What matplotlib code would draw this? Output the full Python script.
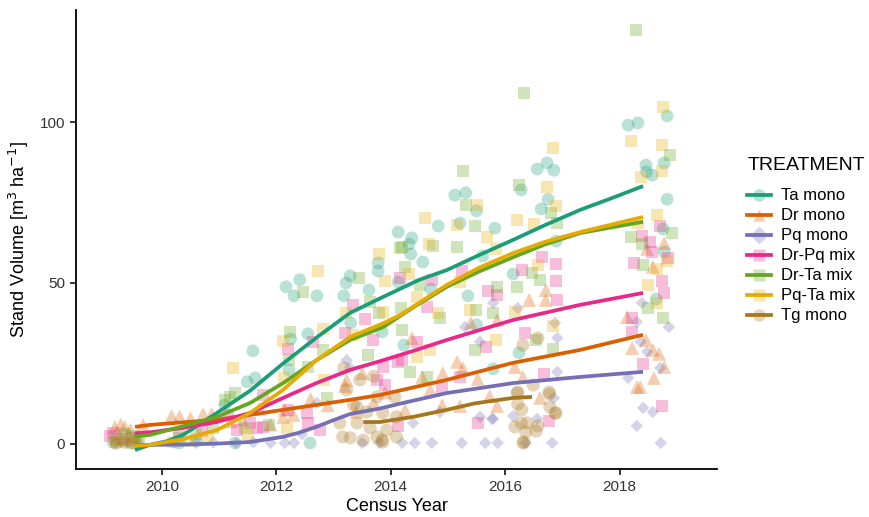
import matplotlib.pyplot as plt
from matplotlib.lines import Line2D
from matplotlib.colors import to_rgba

plt.rcParams['font.family'] = ['Liberation Sans', 'DejaVu Sans']

treatments = ['Ta mono', 'Dr mono', 'Pq mono', 'Dr-Pq mix', 'Dr-Ta mix', 'Pq-Ta mix', 'Tg mono']
colors = ['#1B9E77', '#D95F02', '#7570B3', '#E7298A', '#66A61E', '#E6AB02', '#A6761D']
markers = ['o', '^', 'D', 's', 's', 's', 'o']
msizes = [85, 100, 40, 72, 72, 72, 90]

# --- census observations (year, stand volume) ---
ta_year = [2009.15, 2009.3, 2009.45, 2009.55, 2010.3, 2010.6, 2011.1, 2011.28, 2011.49, 2011.59, 2011.63,
           2012.17, 2012.22, 2012.25, 2012.31, 2012.41, 2012.55, 2012.59, 2012.71, 2013.18, 2013.22, 2013.29,
           2013.3, 2013.62, 2013.78, 2013.78, 2013.85, 2014.13, 2014.13, 2014.23, 2014.32, 2014.35, 2014.37,
           2014.56, 2014.7, 2014.83, 2015.12, 2015.21, 2015.31, 2015.35, 2015.5, 2015.5, 2015.61, 2015.79,
           2015.82, 2016.14, 2016.24, 2016.28, 2016.56, 2016.63, 2016.73, 2016.75, 2016.85, 2016.89, 2018.15,
           2018.32, 2018.46, 2018.47, 2018.57, 2018.64, 2018.76, 2018.78, 2018.78, 2018.83, 2018.83]
ta_vol = [0.5, 1.0, 0.3, 1.5, 0.3, 1.0, 12.1, 0.3, 19.3, 28.9, 20.5,
          48.8, 23.0, 32.6, 46.0, 51.0, 34.2, 0.3, 46.0, 46.0, 50.0, 52.2,
          37.6, 47.8, 56.2, 53.7, 34.8, 65.8, 50.3, 30.7, 62.1, 59.0, 64.0,
          56.5, 48.1, 67.7, 77.3, 68.6, 78.0, 46.0, 72.4, 37.0, 58.4, 23.3,
          67.0, 52.8, 28.3, 78.9, 85.4, 73.0, 87.3, 76.0, 85.0, 63.0, 99.0,
          99.7, 86.6, 84.5, 83.5, 45.0, 66.8, 87.3, 59.6, 101.9, 76.0]

dr_year = [2009.18, 2009.28, 2009.35, 2009.45, 2009.67, 2010.17, 2010.31, 2010.5, 2010.72, 2010.87, 2011.2,
           2011.4, 2011.7, 2011.9, 2012.12, 2012.15, 2012.3, 2012.6, 2012.9, 2013.2, 2013.23, 2013.4, 2013.5,
           2013.7, 2013.9, 2014.25, 2014.37, 2014.55, 2014.69, 2014.9, 2014.91, 2015.16, 2015.21, 2015.26,
           2015.4, 2015.52, 2015.73, 2015.86, 2015.86, 2016.17, 2016.31, 2016.42, 2016.61, 2016.71, 2016.71,
           2018.13, 2018.22, 2018.3, 2018.36, 2018.46, 2018.48, 2018.58, 2018.58, 2018.6, 2018.69, 2018.78,
           2018.78]
dr_vol = [5.3, 6.0, 5.3, 4.5, 5.9, 8.7, 8.5, 8.0, 9.3, 9.3, 7.0,
          7.5, 11.0, 6.0, 8.4, 10.6, 9.0, 14.0, 12.0, 18.0, 19.9, 10.0, 22.0,
          13.0, 16.0, 10.6, 32.9, 20.8, 16.8, 12.1, 22.0, 25.5, 11.8, 23.6,
          37.6, 20.2, 14.9, 11.8, 38.5, 23.9, 20.8, 44.7, 14.3, 47.8, 44.7,
          39.4, 29.8, 17.7, 17.7, 32.3, 60.6, 55.0, 29.2, 20.5, 28.0, 62.4,
          23.9]

pq_year = [2009.2, 2009.4, 2009.6, 2010.2, 2010.6, 2010.9, 2011.3, 2011.6, 2011.9, 2012.15, 2012.31,
           2012.45, 2012.71, 2013.23, 2013.29, 2013.5, 2013.8, 2014.2, 2014.39, 2014.42, 2014.72, 2014.86,
           2015.24, 2015.3, 2015.56, 2015.56, 2015.65, 2015.77, 2015.79, 2015.79, 2015.87, 2016.14, 2016.22,
           2016.36, 2016.56, 2016.82, 2016.85, 2016.87, 2016.91, 2016.91, 2018.15, 2018.3, 2018.3, 2018.37,
           2018.39, 2018.41, 2018.48, 2018.58, 2018.71, 2018.72, 2018.86]
pq_vol = [0.3, 0.5, 0.2, 0.3, 0.3, 0.5, 0.3, 0.5, 0.3, 0.3, 0.3,
          3.0, 12.7, 26.0, 23.6, 0.3, 0.3, 0.3, 6.5, 0.3, 0.3, 9.9,
          0.3, 36.3, 31.7, 8.4, 0.3, 7.8, 43.8, 7.8, 0.3, 8.7, 42.2,
          0.3, 7.8, 0.3, 14.3, 37.6, 32.9, 22.4, 20.5, 37.9, 5.6, 31.7,
          43.8, 11.2, 28.6, 9.9, 23.6, 0.3, 36.3]

drpq_year = [2009.1, 2009.15, 2009.3, 2009.5, 2010.3, 2010.7, 2011.15, 2011.31, 2011.54, 2011.66, 2011.77,
             2011.77, 2012.2, 2012.2, 2012.53, 2012.55, 2012.64, 2012.76, 2013.2, 2013.34, 2013.55, 2013.69,
             2013.76, 2013.86, 2013.9, 2014.13, 2014.13, 2014.16, 2014.2, 2014.46, 2014.63, 2014.72, 2014.9,
             2015.21, 2015.24, 2015.52, 2015.66, 2015.7, 2015.86, 2016.29, 2016.35, 2016.64, 2016.68, 2016.77,
             2016.89, 2016.89, 2016.9, 2018.22, 2018.22, 2018.25, 2018.39, 2018.41, 2018.53, 2018.57, 2018.71,
             2018.74, 2018.74, 2018.78, 2018.85]
drpq_vol = [2.5, 3.5, 1.5, 2.0, 3.0, 4.0, 9.0, 4.3, 6.5, 5.0, 5.3,
            15.2, 29.5, 10.6, 9.6, 6.5, 31.7, 4.3, 34.5, 43.2, 38.8, 32.3,
            19.9, 23.9, 18.3, 25.5, 5.6, 51.6, 26.0, 31.7, 42.5, 50.9, 17.4,
            20.8, 53.7, 6.5, 30.1, 47.5, 46.3, 54.0, 34.5, 58.0, 21.7, 7.1,
            55.9, 50.6, 44.7, 39.1, 34.8, 56.2, 64.6, 24.8, 62.7, 59.6, 67.7,
            50.6, 11.8, 46.9, 57.8]

drta_year = [2009.2, 2009.35, 2009.5, 2009.6, 2010.3, 2010.6, 2010.9, 2011.1, 2011.19, 2011.28, 2011.45,
             2011.87, 2012.22, 2012.24, 2012.47, 2012.55, 2012.81, 2012.88, 2013.44, 2013.6, 2013.64, 2013.79,
             2014.16, 2014.18, 2014.2, 2014.2, 2014.25, 2014.34, 2014.51, 2014.63, 2014.74, 2014.86, 2015.16,
             2015.26, 2015.31, 2015.47, 2015.47, 2015.49, 2015.79, 2015.86, 2016.21, 2016.24, 2016.33, 2016.47,
             2016.54, 2016.61, 2016.8, 2016.84, 2016.91, 2018.2, 2018.29, 2018.39, 2018.41, 2018.5, 2018.76,
             2018.88, 2018.92]
drta_vol = [1.5, 3.0, 2.5, 1.0, 2.0, 3.0, 5.0, 13.7, 14.6, 15.8, 5.0,
            5.9, 26.0, 34.8, 47.2, 23.9, 29.2, 14.3, 51.6, 27.6, 44.1, 40.7,
            60.9, 42.2, 61.2, 35.4, 55.0, 22.4, 49.4, 20.8, 61.5, 39.1, 61.2,
            84.8, 74.2, 67.7, 29.2, 41.6, 40.7, 48.8, 48.8, 80.4, 109.0, 53.1,
            32.3, 50.9, 71.7, 29.5, 68.6, 64.3, 128.6, 62.1, 55.6, 42.2, 39.1,
            89.8, 65.5]

pqta_year = [2009.2, 2009.4, 2009.55, 2010.2, 2010.5, 2010.8, 2011.24, 2011.5, 2012.12, 2012.13, 2012.19,
             2012.73, 2012.81, 2012.83, 2013.22, 2013.34, 2013.79, 2013.86, 2013.9, 2014.32, 2014.46, 2014.46,
             2014.6, 2014.67, 2014.69, 2014.83, 2015.16, 2015.21, 2015.38, 2015.51, 2015.68, 2015.84, 2015.84,
             2016.17, 2016.21, 2016.5, 2016.57, 2016.73, 2016.84, 2016.84, 2016.89, 2018.2, 2018.32, 2018.37,
             2018.5, 2018.65, 2018.65, 2018.65, 2018.74, 2018.74, 2018.76, 2018.83]
pqta_vol = [0.5, 1.0, 0.3, 0.5, 1.0, 2.0, 23.6, 3.0, 32.0, 20.5, 5.0,
            53.7, 35.7, 19.9, 40.7, 33.9, 59.0, 41.0, 50.6, 52.8, 45.7, 27.0,
            70.2, 62.1, 29.2, 40.7, 68.0, 50.3, 41.6, 74.2, 64.3, 60.6, 32.3,
            41.0, 69.6, 68.3, 55.6, 79.8, 91.9, 36.6, 73.9, 94.2, 68.6, 82.9,
            49.4, 71.1, 54.3, 43.8, 92.9, 84.8, 104.7, 56.8]

tg_year = [2009.2, 2009.35, 2009.5, 2013.11, 2013.16, 2013.18, 2013.23, 2013.29, 2013.35, 2013.41, 2013.41,
           2013.46, 2013.52, 2013.58, 2013.64, 2013.7, 2013.76, 2013.76, 2013.85, 2013.86, 2013.86, 2013.93,
           2014.07, 2014.1, 2014.1, 2016.17, 2016.21, 2016.22, 2016.22, 2016.28, 2016.29, 2016.31, 2016.31,
           2016.33, 2016.36, 2016.38, 2016.49, 2016.54, 2016.57, 2016.57, 2016.77, 2016.77, 2016.78, 2016.87,
           2016.89]
tg_vol = [0.2, 0.5, 0.3, 6.5, 2.2, 23.6, 16.8, 1.9, 12.0, 11.5, 6.5,
          19.9, 1.2, 9.9, 5.0, 21.0, 2.2, 14.6, 1.2, 9.6, 0.6, 4.3,
          14.6, 8.4, 2.2, 5.3, 15.8, 12.4, 16.1, 6.5, 10.6, 30.7, 0.3,
          0.6, 3.7, 6.5, 18.3, 4.0, 5.6, 32.9, 15.5, 16.1, 11.5, 9.6,
          9.6]

# --- smoothed trend per treatment ---
ta_fit_x = [2009.53, 2009.79, 2010.1, 2010.37, 2010.96, 2011.54, 2012.12, 2012.7, 2013.29, 2013.87, 2014.5,
            2014.98, 2015.5, 2016.14, 2016.7, 2017.31, 2017.9, 2018.41]
ta_fit_y = [-1.9, -0.3, 0.9, 2.8, 9.6, 16.5, 25.0, 33.0, 40.7, 45.7, 51.0,
            54.0, 58.3, 63.4, 68.0, 72.7, 76.6, 80.1]

dr_fit_x = [2009.53, 2009.79, 2010.37, 2010.96, 2011.54, 2012.12, 2012.7, 2013.29, 2013.81, 2014.98, 2016.14,
            2017.31, 2018.41]
dr_fit_y = [5.3, 5.9, 6.7, 7.5, 9.0, 10.6, 12.1, 13.7, 15.2, 19.9, 25.2, 29.2, 33.9]

pq_fit_x = [2009.53, 2009.79, 2010.37, 2010.96, 2011.54, 2012.12, 2012.4, 2012.7, 2013.0, 2013.29, 2013.81,
            2014.16, 2014.98, 2016.14, 2017.31, 2018.41]
pq_fit_y = [-0.3, -0.3, -0.2, 0.1, 0.6, 2.2, 3.5, 5.3, 7.4, 9.3, 11.0,
            12.5, 15.8, 18.9, 20.8, 22.4]

drpq_fit_x = [2009.53, 2009.79, 2010.37, 2010.96, 2011.54, 2012.12, 2012.7, 2013.29, 2013.87, 2014.5, 2014.98,
              2016.14, 2017.31, 2018.41]
drpq_fit_y = [3.3, 3.6, 5.0, 6.8, 9.6, 14.3, 18.9, 23.0, 26.0, 29.5, 32.3, 38.5, 43.2, 46.9]

drta_fit_x = [2009.53, 2009.79, 2010.37, 2010.96, 2011.54, 2012.12, 2012.7, 2013.29, 2013.87, 2014.4, 2014.98,
              2015.55, 2016.14, 2016.7, 2017.31, 2018.41]
drta_fit_y = [2.3, 2.8, 5.5, 8.4, 12.7, 18.9, 26.0, 32.3, 36.3, 42.5, 48.8,
              53.6, 58.0, 62.0, 65.5, 69.0]

pqta_fit_x = [2009.53, 2009.79, 2010.37, 2010.96, 2011.54, 2012.12, 2012.7, 2013.29, 2013.87, 2014.16, 2014.98,
              2015.55, 2016.14, 2016.7, 2017.31, 2018.41]
pqta_fit_y = [-0.6, -0.3, 1.5, 4.3, 9.6, 16.8, 26.0, 33.2, 37.5, 40.0, 49.4,
              54.8, 59.3, 62.8, 65.8, 70.5]

tg_fit_x = [2013.52, 2013.81, 2014.39, 2014.98, 2015.47, 2016.14, 2016.47]
tg_fit_y = [6.8, 6.8, 8.4, 10.6, 12.6, 14.3, 14.6]

obs = [(ta_year, ta_vol), (dr_year, dr_vol), (pq_year, pq_vol), (drpq_year, drpq_vol),
       (drta_year, drta_vol), (pqta_year, pqta_vol), (tg_year, tg_vol)]
fits = [(ta_fit_x, ta_fit_y), (dr_fit_x, dr_fit_y), (pq_fit_x, pq_fit_y), (drpq_fit_x, drpq_fit_y),
        (drta_fit_x, drta_fit_y), (pqta_fit_x, pqta_fit_y), (tg_fit_x, tg_fit_y)]

fig = plt.figure(figsize=(8.7, 5.17), dpi=100)
ax = fig.add_axes([0.0874, 0.0928, 0.7366, 0.8879])

# points first, smooth lines on top
for (x, y), c, m, s in zip(obs, colors, markers, msizes):
    ax.scatter(x, y, s=s, marker=m, color=c, alpha=0.3, edgecolors='none', zorder=2)
for (x, y), c in zip(fits, colors):
    ax.plot(x, y, color=c, lw=2.7, solid_capstyle='butt', solid_joinstyle='round', zorder=3)

ax.set_xlim(2008.5, 2019.7)
ax.set_ylim(-7.8, 134.8)
ax.set_xticks([2010, 2012, 2014, 2016, 2018])
ax.set_yticks([0, 50, 100])
for side in ['top', 'right']:
    ax.spines[side].set_visible(False)
for side in ['left', 'bottom']:
    ax.spines[side].set_linewidth(1.3)
ax.tick_params(direction='out', length=4, width=1.1, labelsize=11, labelcolor='#333333', pad=4)
ax.set_xlabel('Census Year', fontsize=13, labelpad=3)
ax.set_ylabel('Stand Volume [m$^3$ ha$^{-1}$]', fontsize=13, labelpad=6)

handles = []
for c, m in zip(colors, markers):
    handles.append(Line2D([], [], color=c, lw=2.7, marker=m, markersize=9,
                          markerfacecolor=to_rgba(c, 0.3), markeredgecolor='none'))
leg = fig.legend(handles, treatments, title='TREATMENT', loc='center left',
                 bbox_to_anchor=(0.859, 0.535), frameon=False, fontsize=12,
                 title_fontsize=14, handlelength=1.4, handletextpad=0.65, labelspacing=0.3,
                 borderpad=0, borderaxespad=0)
leg._legend_box.align = 'left'
leg._legend_box.sep = 10

fig.savefig('out.png', dpi=100)
